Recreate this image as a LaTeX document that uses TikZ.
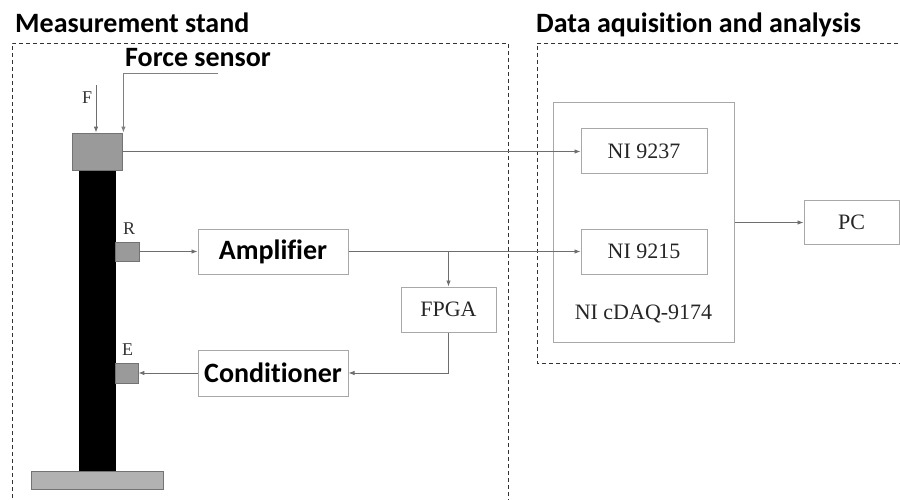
\documentclass[tikz,border=0pt]{standalone}
\usepackage{fontspec}
\setmainfont{Liberation Serif}
\newfontfamily\hdfont{Carlito}[Ligatures={NoCommon,NoContextual}]
\usetikzlibrary{arrows.meta}
\definecolor{lnc}{HTML}{6E6E6E}
\definecolor{bxc}{HTML}{A8A8A8}
\definecolor{snc}{HTML}{9A9A9A}
\newcommand\hdsz{\hdfont\bfseries\fontsize{28}{30}\selectfont}
\newcommand\serifsz{\fontsize{22}{24}\selectfont}
\newcommand\lblsz{\fontsize{18}{20}\selectfont}
\begin{document}
\begin{tikzpicture}[x=1pt,y=-1pt,
  box/.style={draw=bxc, line width=1pt, inner sep=0pt, font=\serifsz, text=black!85},
  hd/.style={font=\hdsz, anchor=base west, inner sep=0pt},
  conn/.style={draw=lnc, line width=0.9pt},
  arr/.style={conn, -{Latex[length=6pt,width=4.5pt]}},
  frame/.style={draw=black!80, line width=0.9pt, dash pattern=on 4pt off 3pt},
  part/.style={draw=black!55, fill=snc, line width=0.8pt, inner sep=0pt},
  lbl/.style={font=\lblsz, text=black!80, anchor=base west, inner sep=0pt}
]
\useasboundingbox (0,0) rectangle (900,500);

% frames
\draw[frame] (12,505) -- (12,43) -- (508,43) -- (508,505);
\draw[frame] (905,43) -- (537,43) -- (537,363) -- (905,363);

% titles
\node[hd] (t1) at (15,33) {Measurement stand};
\node[hd] (t2) at (125,67) {Force sensor};
\node[hd] (t3) at (536,33) {Data aquisition and analysis};

% stand
\node[draw=black, fill=black, minimum width=36pt, minimum height=301pt, inner sep=0pt] (col) at (97,320.5) {};
\node[part, fill=gray!60, minimum width=132pt, minimum height=18pt] (base) at (97,480) {};
\node[part, minimum width=50pt, minimum height=37pt] (fs) at (97,151.5) {};
\node[part, minimum width=24pt, minimum height=19pt] (rs) at (127,251.5) {};
\node[part, minimum width=23pt, minimum height=20pt] (es) at (126.5,373) {};

\node[lbl] (lf) at (82,104) {F};
\node[lbl] (lr) at (123,234) {R};
\node[lbl] (le) at (122,355) {E};

% boxes
\node[box, minimum width=150pt, minimum height=45pt, font=\hdsz, text=black] (amp) at (273,251.5) {Amplifier};
\node[box, minimum width=150pt, minimum height=46pt, font=\hdsz, text=black] (cond) at (273,373) {Conditioner};
\node[box, minimum width=95pt, minimum height=45pt] (fpga) at (448.5,309.5) {FPGA};
\node[box, minimum width=181pt, minimum height=239pt] (cdaq) at (643.5,222.5) {};
\node[box, minimum width=126pt, minimum height=45pt] (ni37) at (644,151.5) {NI 9237};
\node[box, minimum width=126pt, minimum height=45pt] (ni15) at (644,251.5) {NI 9215};
\node[box, minimum width=95pt, minimum height=44pt] (pc) at (851.5,222.5) {PC};
\node[font=\serifsz, text=black!85, anchor=base, inner sep=0pt] (cdl) at (643.5,319) {NI cDAQ-9174};

% connectors
\coordinate (ftop) at (96,85);
\draw[arr] (ftop) -- (ftop |- fs.north);
\coordinate (fp) at (218,73);
\draw[arr, draw=black!50] (fp) -| ([xshift=1pt]fs.north east);
\draw[arr] (fs.east) -- (ni37.west);
\draw[arr] (rs.east) -- (amp.west);
\draw[arr] (amp.east) -- (ni15.west);
\coordinate (br) at (fpga.north |- amp.east);
\draw[arr] (br) -- (fpga.north);
\draw[arr] (fpga.south) |- (cond.east);
\draw[arr] (cond.west) -- (es.east);
\draw[arr] (cdaq.east) -- (pc.west);
\end{tikzpicture}
\end{document}
